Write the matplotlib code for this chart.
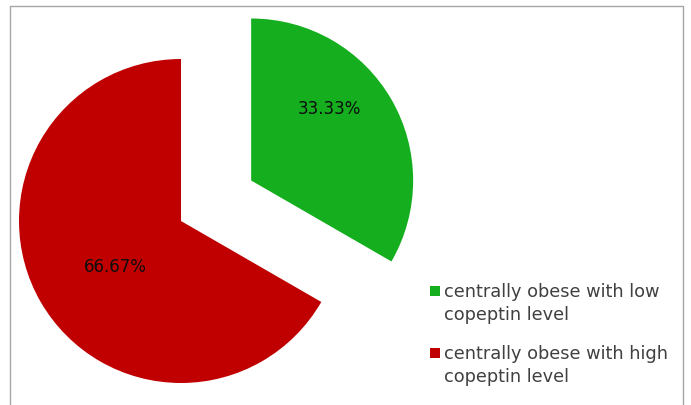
import matplotlib.pyplot as plt
from matplotlib.patches import Rectangle

# data
labels = ['centrally obese with low\ncopeptin level',
          'centrally obese with high\ncopeptin level']
values = [33.33, 66.67]
colors = ['#14ae1e', '#c00000']
explode = [0.5, 0.0]

W, H = 691, 406
fig = plt.figure(figsize=(W / 100, H / 100), dpi=100)
fig.patch.set_facecolor('white')

# axes spanning whole figure, 1 data unit = pie radius in pixels
r_px = 162.0
cx, cy = 181.0, 222.0
ax = fig.add_axes([0, 0, 1, 1])

wedges, texts, autotexts = ax.pie(values, colors=colors, explode=explode,
                                  startangle=90, counterclock=False,
                                  autopct='%.2f%%', pctdistance=0.5,
                                  wedgeprops=dict(linewidth=0),
                                  textprops=dict(fontsize=12, family='DejaVu Sans',
                                                 color='#0d0d0d'))
ax.set_xlim(-cx / r_px, (W - cx) / r_px)
ax.set_ylim(-(H - cy) / r_px, cy / r_px)
ax.set_aspect('auto')
ax.axis('off')

# label placement like the original
x0, y0 = autotexts[0].get_position()
autotexts[0].set_position((x0 + 0.05, y0 + 0.2))
x1, y1 = autotexts[1].get_position()
autotexts[1].set_position((x1 + 0.03, y1 - 0.03))

# legend drawn by hand so the swatch sits on the first line
for i, (lab, col) in enumerate(zip(labels, colors)):
    yc = 292 + i * 62
    fig.patches.append(Rectangle((430 / W, 1 - (yc + 5) / H), 10 / W, 10 / H,
                                 transform=fig.transFigure, facecolor=col,
                                 edgecolor='none'))
    fig.text(444 / W, 1 - (yc - 9) / H, lab, ha='left', va='top',
             fontsize=12.8, family='DejaVu Sans', color='#404040',
             linespacing=1.35)

# outer chart border
fig.patches.append(Rectangle((10 / W, -0.05), 673 / W, 1 - 7 / H + 0.05,
                             transform=fig.transFigure, fill=False,
                             edgecolor='#a6a6a6', linewidth=1))

fig.savefig('out.png', dpi=100)
